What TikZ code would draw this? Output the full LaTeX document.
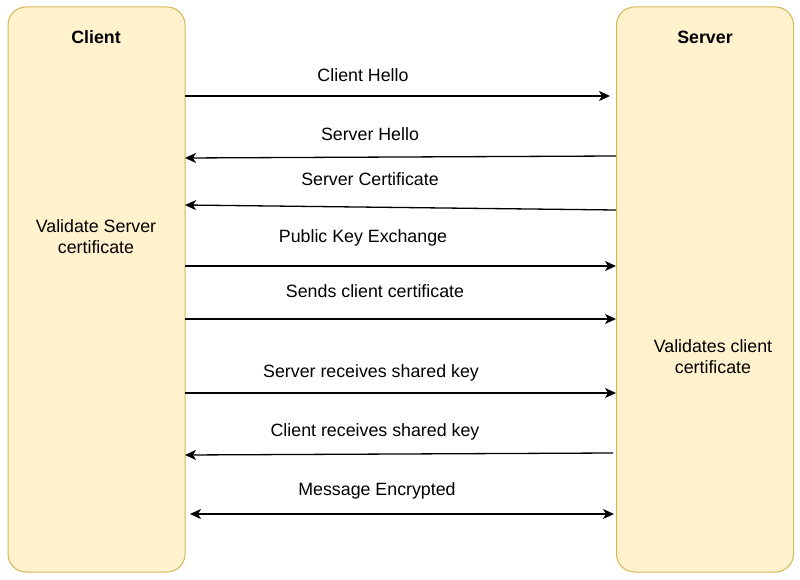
\documentclass[tikz,border=0pt]{standalone}
\usepackage{fontspec}
\setmainfont{Liberation Sans}
\usetikzlibrary{arrows.meta}
\definecolor{laneFill}{HTML}{FFF2CC}
\definecolor{laneLine}{HTML}{D6B656}
\tikzset{
  lane/.style={draw=laneLine, fill=laneFill, line width=1pt, rounded corners=18pt,
    minimum width=177pt, minimum height=565pt, inner sep=0pt},
  msg/.style={line width=1.3pt, -{Stealth[length=11pt,width=10pt,inset=3pt]}},
  both/.style={line width=1.3pt, {Stealth[length=11pt,width=10pt,inset=3pt]}-{Stealth[length=11pt,width=10pt,inset=3pt]}},
  lbl/.style={font=\fontsize{17.8}{21}\selectfont, inner sep=0pt},
  note/.style={font=\fontsize{17.8}{21}\selectfont, align=center, inner sep=0pt}
}
\begin{document}
\begin{tikzpicture}[x=1pt, y=-1pt]
\useasboundingbox (0,0) rectangle (800,580);
% Lanes
\node[lane] (client) at (96.5,289.5) {};
\node[lane] (server) at (705,289.5) {};
% Titles
\node[lbl, font=\fontsize{17.8}{21}\selectfont\bfseries] (clientTitle) at (96,37) {Client};
\node[lbl, font=\fontsize{17.8}{21}\selectfont\bfseries] (serverTitle) at (705,37) {Server};
% Notes inside lanes
\node[note] (clientNote) at (96,237) {Validate Server\\certificate};
\node[note] (serverNote) at (713,357) {Validates client\\certificate};
% End points of messages
\coordinate (helloC) at (185,96);     \coordinate (helloS) at (610,96);
\coordinate (shelloS) at (616,156);   \coordinate (shelloC) at (185,158);
\coordinate (certS) at (616,210);     \coordinate (certC) at (185,205);
\coordinate (pkeyC) at (185,266);     \coordinate (pkeyS) at (616,266);
\coordinate (ccertC) at (185,319);    \coordinate (ccertS) at (616,319);
\coordinate (skeyC) at (185,393);     \coordinate (skeyS) at (616,393);
\coordinate (ckeyS) at (613,453);     \coordinate (ckeyC) at (185,455);
\coordinate (encC) at (190,514);      \coordinate (encS) at (614,514);
% Client Hello
\draw[msg] (helloC) -- (helloS);
\node[lbl] (helloLbl) at (363,75) {Client Hello};
% Server Hello
\draw[msg] (shelloS) -- (shelloC);
\node[lbl] (shelloLbl) at (370,134) {Server Hello};
% Server Certificate
\draw[msg] (certS) -- (certC);
\node[lbl] (certLbl) at (370,179) {Server Certificate};
% Public Key Exchange
\draw[msg] (pkeyC) -- (pkeyS);
\node[lbl] (pkeyLbl) at (363,238) {Public Key Exchange};
% Sends client certificate
\draw[msg] (ccertC) -- (ccertS);
\node[lbl] (ccertLbl) at (375,291) {Sends client certificate};
% Server receives shared key
\draw[msg] (skeyC) -- (skeyS);
\node[lbl] (skeyLbl) at (371,373) {Server receives shared key};
% Client receives shared key
\draw[msg] (ckeyS) -- (ckeyC);
\node[lbl] (ckeyLbl) at (375,432) {Client receives shared key};
% Message Encrypted
\draw[both] (encC) -- (encS);
\node[lbl] (encLbl) at (377,491) {Message Encrypted};
\end{tikzpicture}
\end{document}
